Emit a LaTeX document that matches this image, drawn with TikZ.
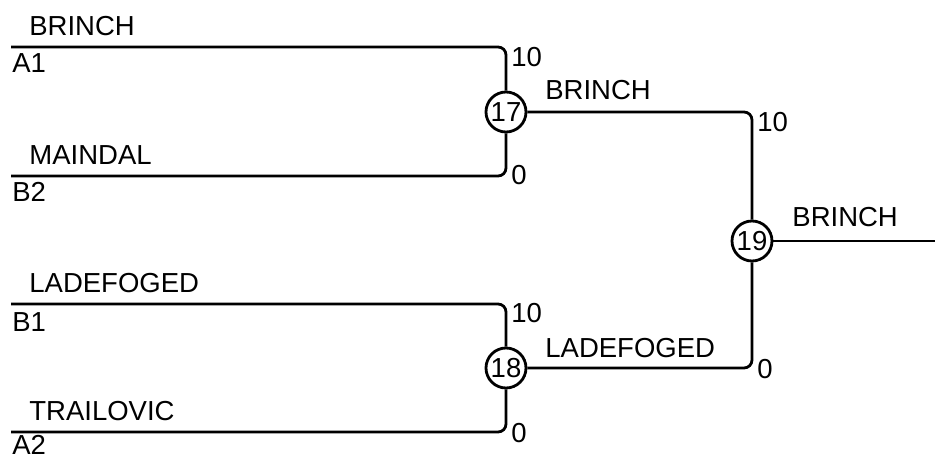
\documentclass[tikz,border=0pt]{standalone}
\usepackage{fontspec}
\setmainfont{Liberation Sans}
\begin{document}
\begin{tikzpicture}[x=1pt,y=-1pt,
  line width=2.8pt,
  every node/.style={font=\fontsize{27.5}{32}\selectfont, inner sep=0pt},
  lbl/.style={anchor=base west},
  game/.style={circle, draw, line width=2.8pt, minimum size=40pt, inner sep=0pt},
  wire/.style={draw, line width=2.8pt, rounded corners=8pt}]
\useasboundingbox (0,0) rectangle (935,457);
% coordinates of line starts
\coordinate (a1) at (11,47);
\coordinate (b2) at (11,176);
\coordinate (b1) at (11,304);
\coordinate (a2) at (11,432);
\coordinate (out) at (935,241);
% games
\node[game] (c17) at (506,112) {17};
\node[game] (c18) at (506,368) {18};
\node[game] (c19) at (752,241) {19};
% connectors
\path[wire] (a1) -| (c17);
\path[wire] (b2) -| (c17);
\path[wire] (b1) -| (c18);
\path[wire] (a2) -| (c18);
\path[wire] (c17) -| (c19);
\path[wire] (c18) -| (c19);
\path[wire] (c19) -- (out);
% player labels
\node[lbl] (n1) at (28,36) {BRINCH};
\node[lbl] (s1) at (11,73) {A1};
\node[lbl] (n2) at (28,165) {MAINDAL};
\node[lbl] (s2) at (11,202) {B2};
\node[lbl] (n3) at (28,293) {LADEFOGED};
\node[lbl] (s3) at (11,331) {B1};
\node[lbl] (n4) at (28,420) {TRAILOVIC};
\node[lbl] (s4) at (11,454.5) {A2};
% scores
\node[lbl] (p1) at (510,67) {10};
\node[lbl] (p2) at (510,185) {0};
\node[lbl] (p3) at (510,323) {10};
\node[lbl] (p4) at (510,442) {0};
\node[lbl] (p5) at (756,132) {10};
\node[lbl] (p6) at (756,378) {0};
% winners
\node[lbl] (w1) at (544,100) {BRINCH};
\node[lbl] (w2) at (544,357) {LADEFOGED};
\node[lbl] (w3) at (791,227) {BRINCH};
\end{tikzpicture}
\end{document}
